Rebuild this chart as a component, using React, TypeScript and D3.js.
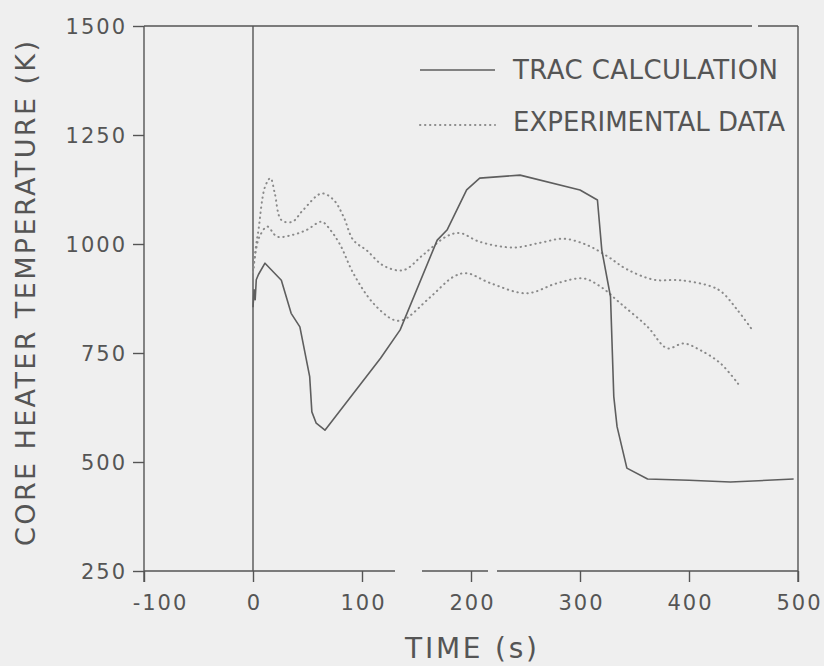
import React, { useEffect, useRef } from "react";
import * as d3 from "d3";

const xTicks = [-100, 0, 100, 200, 300, 400, 500];
const yTicks = [250, 500, 750, 1000, 1250, 1500];
const seriesNames = ["TRAC CALCULATION", "EXPERIMENTAL DATA"];
const xTitle = "TIME (s)";
const yTitle = "CORE HEATER TEMPERATURE (K)";

const tracTime = [0, 1, 2, 3, 5, 11, 26, 35, 43, 52, 54, 58, 66, 117, 135, 169, 178, 196, 208, 245, 300, 316, 320, 328, 331, 334, 343, 362, 400, 438, 496];
const tracTemp = [855, 895, 872, 918, 930, 956, 917, 841, 810, 696, 615, 589, 573, 738, 803, 1009, 1032, 1124, 1151, 1158, 1124, 1101, 986, 879, 650, 581, 486, 461, 458, 454, 461];

const expUpperTime = [0, 3, 5, 11, 16, 20, 26, 36, 46, 63, 74, 83, 92, 104, 120, 138, 156, 178, 190, 208, 239, 264, 285, 306, 325, 343, 368, 392, 420, 430, 444, 458];
const expUpperTemp = [935, 1000, 1032, 1131, 1151, 1116, 1055, 1051, 1078, 1116, 1101, 1063, 1009, 986, 950, 940, 975, 1018, 1025, 1005, 992, 1003, 1012, 998, 972, 942, 918, 917, 903, 890, 850, 803];

const expLowerTime = [0, 3, 6, 13, 22, 35, 49, 63, 71, 80, 92, 110, 129, 138, 163, 184, 196, 218, 251, 279, 303, 319, 337, 362, 380, 395, 410, 429, 447];
const expLowerTemp = [935, 990, 1017, 1040, 1017, 1020, 1032, 1051, 1032, 998, 933, 865, 826, 826, 879, 925, 933, 910, 887, 910, 921, 902, 864, 810, 761, 772, 757, 726, 673];

const W = 824;
const H = 666;
const M = { left: 144, right: 26, top: 26, bottom: 95 };
const BG = "#efefef";
const INK = "#555555";
const LINE = "#5e5e5e";
const DOT = "#8a8a8a";
const FONT = "'DejaVu Sans', 'Liberation Sans', sans-serif";

export default function App() {
  const ref = useRef<SVGSVGElement>(null);

  useEffect(() => {
    const svg = d3.select(ref.current);
    svg.selectAll("*").remove();

    const x = d3.scaleLinear().domain([-100, 500]).range([M.left, W - M.right]);
    const y = d3.scaleLinear().domain([250, 1500]).range([H - M.bottom, M.top]);

    svg.append("rect").attr("width", W).attr("height", H).attr("fill", BG);

    const x0 = x(-100), x1 = x(500), y0 = y(1500), y1 = y(250);

    // X axis
    const gx = svg
      .append("g")
      .attr("transform", `translate(0,${y1})`)
      .call(
        d3
          .axisBottom(x)
          .tickValues(xTicks)
          .tickSize(11)
          .tickFormat((d: any) => String(d))
      );
    gx.attr("font-size", 21).attr("font-family", FONT);
    gx.select(".domain").remove();
    gx.selectAll(".tick line").attr("stroke", INK).attr("stroke-width", 1.4);
    gx.selectAll(".tick text")
      .attr("y", 39)
      .attr("dy", null)
      .attr("dx", (d: any) => (d < 0 ? 16 : 1))
      .attr("fill", INK)
      .style("letter-spacing", "2px");

    // Y axis
    const gy = svg
      .append("g")
      .attr("transform", `translate(${x0},0)`)
      .call(d3.axisLeft(y).tickValues(yTicks).tickSize(11).tickFormat((d: any) => String(d)));
    gy.attr("font-size", 21).attr("font-family", FONT);
    gy.select(".domain").remove();
    gy.selectAll(".tick line").attr("stroke", INK).attr("stroke-width", 1.4);
    gy.selectAll(".tick text")
      .attr("x", -17)
      .attr("dy", "0.36em")
      .attr("fill", INK)
      .style("letter-spacing", "2px");

    // Frame (with scan gaps)
    const frame = svg.append("g").attr("stroke", INK).attr("stroke-width", 1.4).attr("fill", "none");
    const seg = (a: number, b: number, c: number, d: number) =>
      frame.append("line").attr("x1", a).attr("y1", b).attr("x2", c).attr("y2", d);
    seg(x0, y0, x0, y1 + 11);
    seg(x1, y0, x1, y1 + 11);
    seg(x0, y0, 752, y0);
    seg(758, y0, x1, y0);
    seg(x0, y1, 395, y1);
    seg(422, y1, 488, y1);
    seg(497, y1, x1, y1);
    // zero line
    seg(x(0), y0, x(0), y1);

    const line = d3
      .line<[number, number]>()
      .x((d) => x(d[0]))
      .y((d) => y(d[1]));
    const smooth = d3
      .line<[number, number]>()
      .x((d) => x(d[0]))
      .y((d) => y(d[1]))
      .curve(d3.curveCatmullRom.alpha(0.5));

    const dotted = (sel: any) =>
      sel
        .attr("fill", "none")
        .attr("stroke", DOT)
        .attr("stroke-width", 2)
        .attr("stroke-linecap", "round")
        .attr("stroke-dasharray", "0.4 4.6");

    svg.append("path")
      .attr("d", smooth(d3.zip(expUpperTime, expUpperTemp) as any))
      .call(dotted);
    svg.append("path")
      .attr("d", smooth(d3.zip(expLowerTime, expLowerTemp) as any))
      .call(dotted);

    svg.append("path")
      .attr("d", line(d3.zip(tracTime, tracTemp) as any))
      .attr("fill", "none")
      .attr("stroke", LINE)
      .attr("stroke-width", 1.6)
      .attr("stroke-linejoin", "round");

    // Legend
    const lg = svg.append("g");
    lg.append("line").attr("x1", 420).attr("x2", 495).attr("y1", 70).attr("y2", 70)
      .attr("stroke", LINE).attr("stroke-width", 1.6);
    lg.append("line").attr("x1", 420).attr("x2", 495).attr("y1", 125).attr("y2", 125).call(dotted);
    lg.append("text").attr("x", 513).attr("y", 79).text(seriesNames[0])
      .attr("font-family", FONT).attr("font-size", 26).attr("fill", INK)
      .attr("textLength", 265).attr("lengthAdjust", "spacing");
    lg.append("text").attr("x", 513).attr("y", 131).text(seriesNames[1])
      .attr("font-family", FONT).attr("font-size", 26).attr("fill", INK)
      .attr("textLength", 272).attr("lengthAdjust", "spacing");

    // Titles
    svg.append("text").attr("x", 405).attr("y", 658).text(xTitle)
      .attr("font-family", FONT).attr("font-size", 28).attr("fill", INK)
      .attr("textLength", 132).attr("lengthAdjust", "spacing");
    svg.append("text")
      .attr("transform", `translate(35,293.5) rotate(-90)`)
      .attr("text-anchor", "middle")
      .text(yTitle)
      .attr("font-family", FONT).attr("font-size", 27).attr("fill", INK)
      .attr("textLength", 505).attr("lengthAdjust", "spacing");
  }, []);

  return (
    <svg
      ref={ref}
      width={W}
      height={H}
      style={{ position: "absolute", left: 0, top: 0, display: "block" }}
    />
  );
}
